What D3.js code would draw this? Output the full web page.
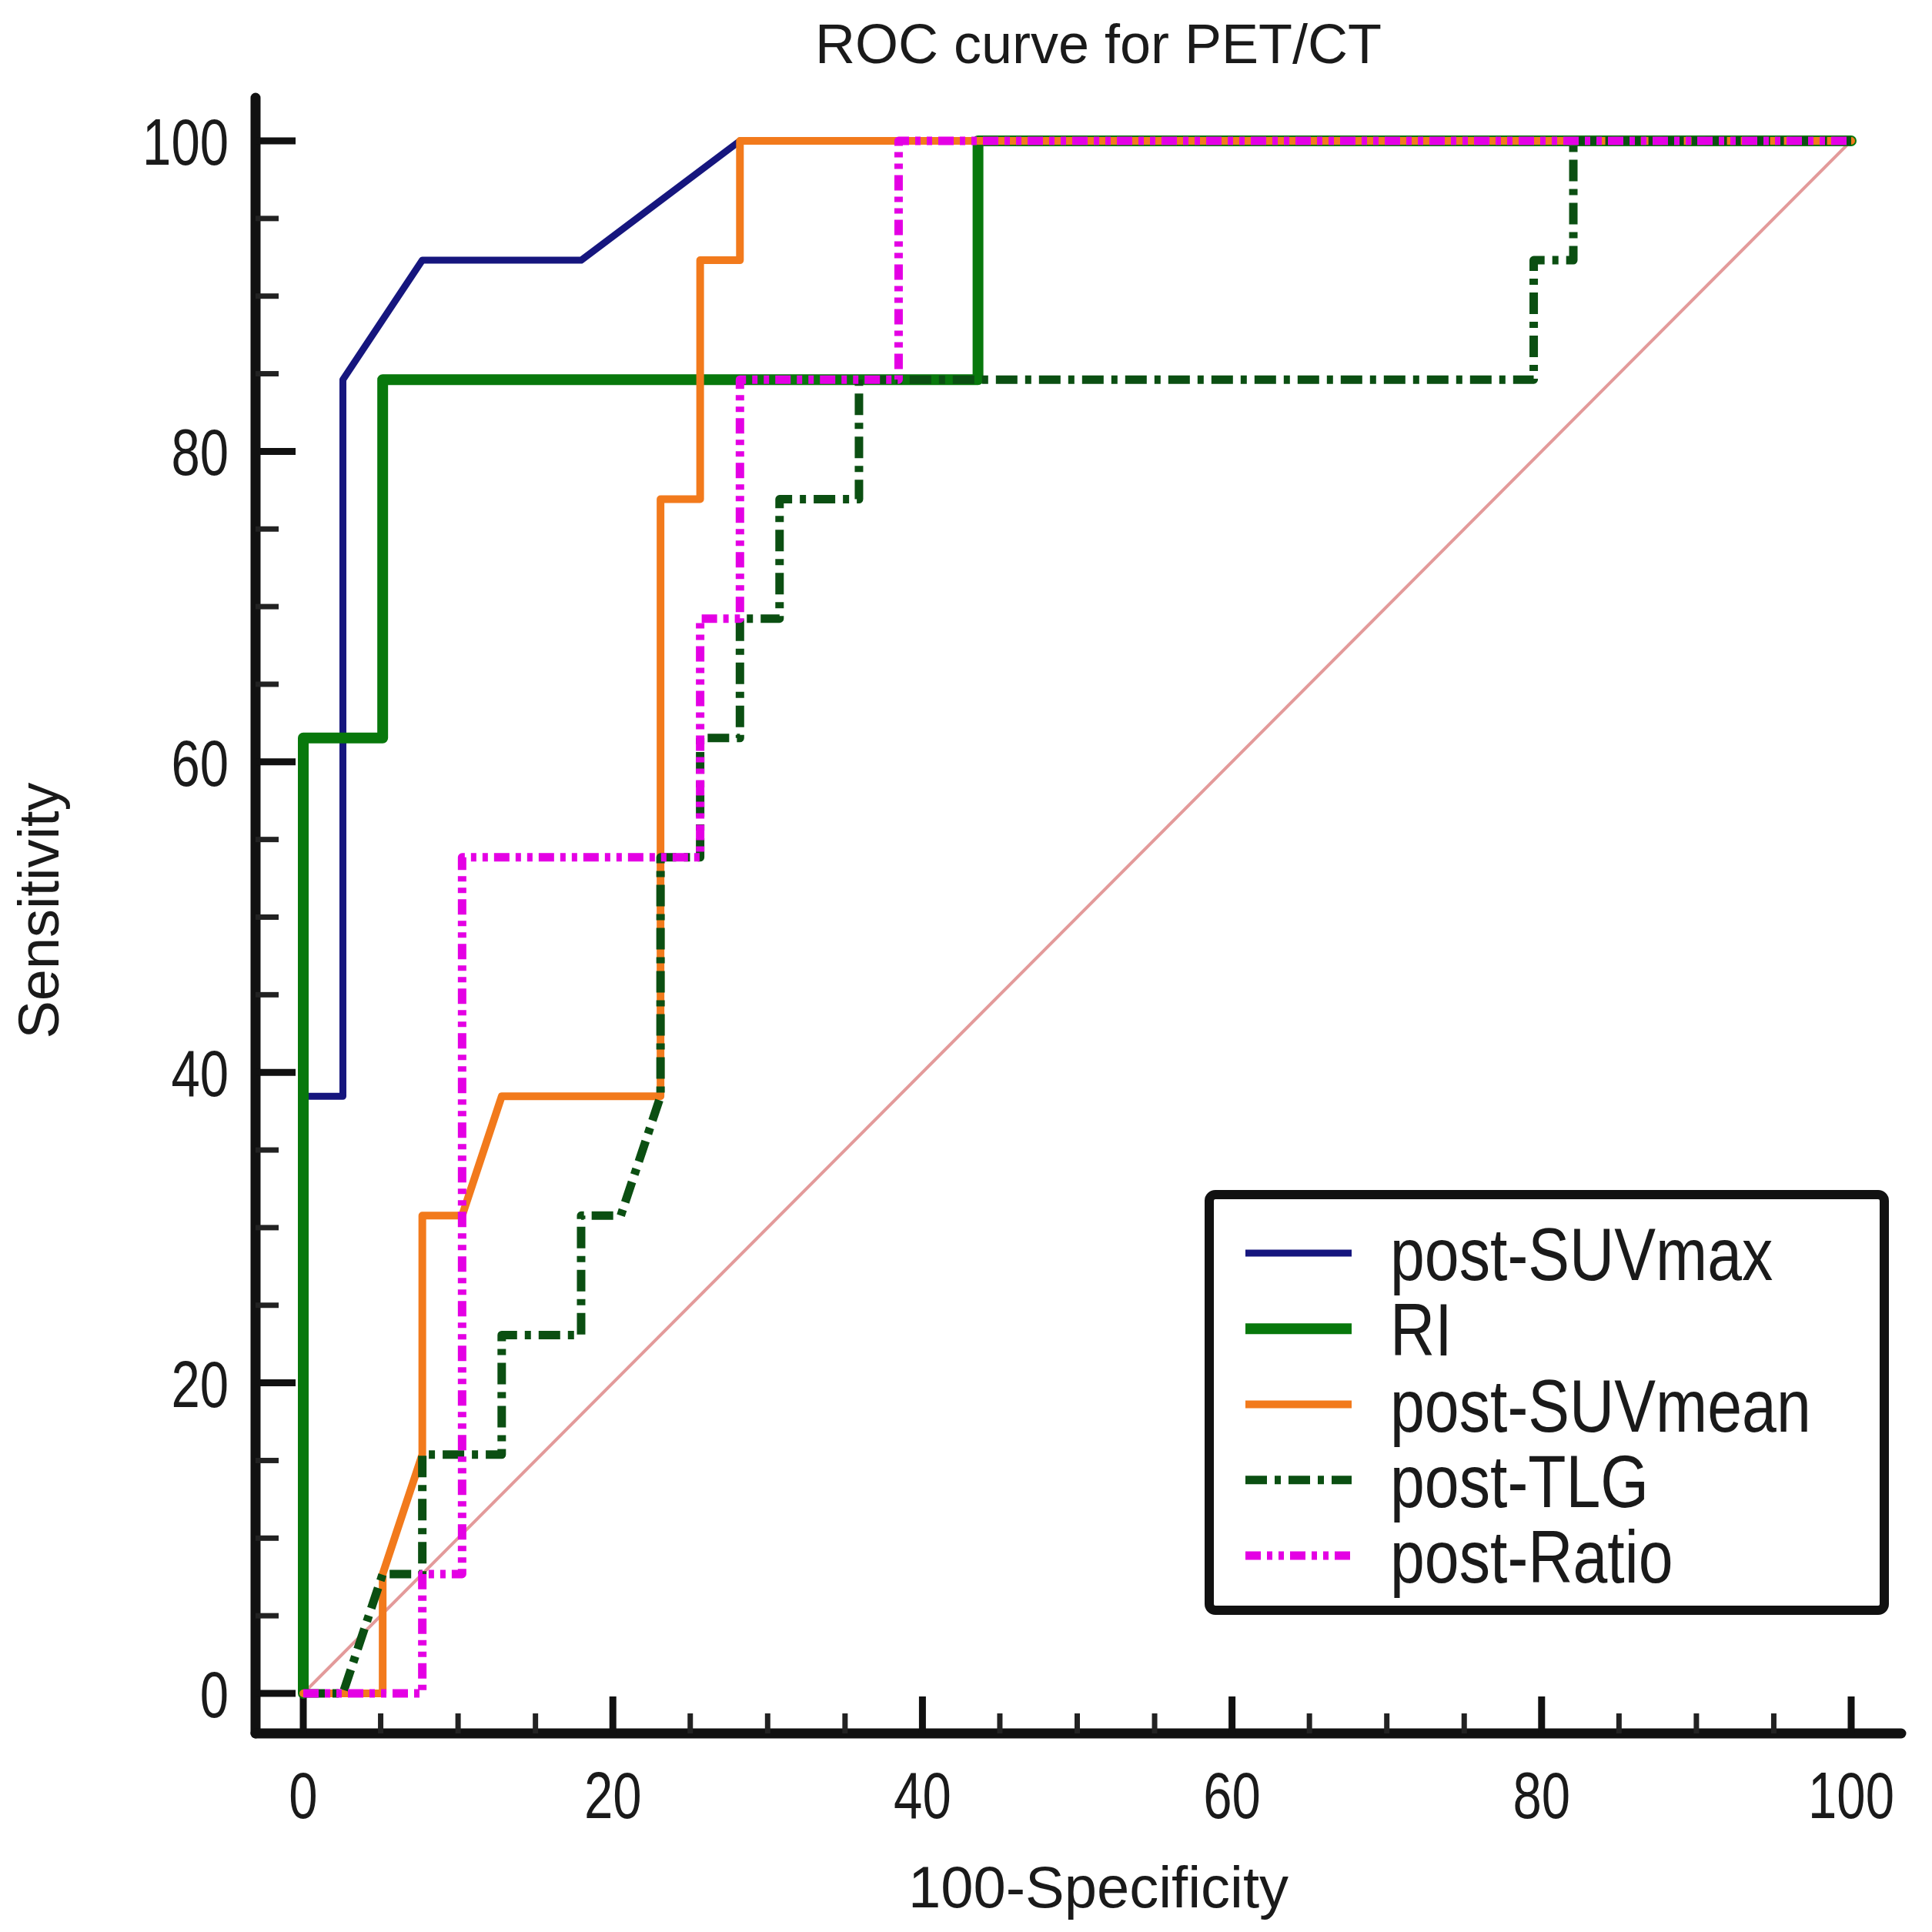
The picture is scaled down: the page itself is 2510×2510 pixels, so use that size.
<!DOCTYPE html>
<html>
<head>
<meta charset="utf-8">
<script src="https://cdn.jsdelivr.net/npm/d3@7"></script>
<style>
  html, body { margin: 0; padding: 0; background: #ffffff; }
  svg { display: block; }
  text { font-family: "Liberation Sans", Arial, Helvetica, sans-serif; fill: #1a1a1a; }
</style>
</head>
<body>
<svg id="chart" width="2510" height="2510"></svg>
<script>
// ---- data (100-Specificity on x, Sensitivity on y) ----
const seriesNames = ["post-SUVmax", "RI", "post-SUVmean", "post-TLG", "post-Ratio"];

const suvmaxX = [0, 0, 2.56, 2.56, 7.69, 17.95, 28.21, 100];
const suvmaxY = [0, 38.46, 38.46, 84.62, 92.31, 92.31, 100, 100];

const riX = [0, 0, 5.13, 5.13, 43.59, 43.59, 100];
const riY = [0, 61.54, 61.54, 84.62, 84.62, 100, 100];

const suvmeanX = [0, 5.13, 5.13, 7.69, 7.69, 10.26, 12.82, 23.08, 23.08, 25.64, 25.64, 28.21, 28.21, 100];
const suvmeanY = [0, 0, 7.69, 15.38, 30.77, 30.77, 38.46, 38.46, 76.92, 76.92, 92.31, 92.31, 100, 100];

const tlgX = [0, 2.56, 5.13, 7.69, 7.69, 12.82, 12.82, 17.95, 17.95, 20.51, 23.08, 23.08, 25.64, 25.64, 28.21, 28.21, 30.77, 30.77, 35.90, 35.90, 79.49, 79.49, 82.05, 82.05, 100];
const tlgY = [0, 0, 7.69, 7.69, 15.38, 15.38, 23.08, 23.08, 30.77, 30.77, 38.46, 53.85, 53.85, 61.54, 61.54, 69.23, 69.23, 76.92, 76.92, 84.62, 84.62, 92.31, 92.31, 100, 100];

const ratioX = [0, 7.69, 7.69, 10.26, 10.26, 25.64, 25.64, 28.21, 28.21, 38.46, 38.46, 100];
const ratioY = [0, 0, 7.69, 7.69, 53.85, 53.85, 69.23, 69.23, 84.62, 84.62, 100, 100];

const refX = [0, 100];
const refY = [0, 100];

const majorTicks = [0, 20, 40, 60, 80, 100];
const minorTicks = [5, 10, 15, 25, 30, 35, 45, 50, 55, 65, 70, 75, 85, 90, 95];

const titleText = "ROC curve for PET/CT";
const xTitle = "100-Specificity";
const yTitle = "Sensitivity";

// ---- styles ----
const styles = [
  { color: "#16167e", width: 9,  dash: null },
  { color: "#08780c", width: 14, dash: null },
  { color: "#f27a1c", width: 10, dash: null },
  { color: "#0b4f12", width: 11, dash: "28,10,8,10" },
  { color: "#e400e4", width: 11, dash: "20,8,7,8,7,8" }
];

const svg = d3.select("#chart");
svg.append("rect").attr("width", 2510).attr("height", 2510).attr("fill", "#fff");

const x = d3.scaleLinear().domain([0, 100]).range([394, 2405]);
const y = d3.scaleLinear().domain([0, 100]).range([2200, 183]);

const axisX = 332;   // y-axis line position
const axisY = 2252;  // x-axis line position

// ---- axes ----
const gA = svg.append("g");
gA.append("line").attr("x1", axisX).attr("x2", axisX).attr("y1", 127).attr("y2", axisY)
  .attr("stroke", "#111").attr("stroke-width", 13).attr("stroke-linecap", "round");
gA.append("line").attr("x1", axisX).attr("x2", 2470).attr("y1", axisY).attr("y2", axisY)
  .attr("stroke", "#111").attr("stroke-width", 13).attr("stroke-linecap", "round");

// y ticks (pointing right)
gA.selectAll(".ytmaj").data(majorTicks).join("line")
  .attr("x1", axisX).attr("x2", axisX + 52).attr("y1", d => y(d)).attr("y2", d => y(d))
  .attr("stroke", "#111").attr("stroke-width", 9);
gA.selectAll(".ytmin").data(minorTicks).join("line")
  .attr("x1", axisX).attr("x2", axisX + 30).attr("y1", d => y(d)).attr("y2", d => y(d))
  .attr("stroke", "#222").attr("stroke-width", 7);
// x ticks (pointing up)
gA.selectAll(".xtmaj").data(majorTicks).join("line")
  .attr("x1", d => x(d)).attr("x2", d => x(d)).attr("y1", axisY).attr("y2", axisY - 48)
  .attr("stroke", "#111").attr("stroke-width", 9);
gA.selectAll(".xtmin").data(minorTicks).join("line")
  .attr("x1", d => x(d)).attr("x2", d => x(d)).attr("y1", axisY).attr("y2", axisY - 26)
  .attr("stroke", "#222").attr("stroke-width", 7);

// tick labels (condensed digits)
const fmt = d3.format("d");
gA.selectAll(".ylab").data(majorTicks).join("g")
  .attr("transform", d => `translate(297,${y(d) + 31}) scale(0.78,1)`)
  .append("text").attr("text-anchor", "end").attr("font-size", 86).text(d => fmt(d));
gA.selectAll(".xlab").data(majorTicks).join("g")
  .attr("transform", d => `translate(${x(d)},2362) scale(0.78,1)`)
  .append("text").attr("text-anchor", "middle").attr("font-size", 86).text(d => fmt(d));

// titles
svg.append("text").attr("x", 1427).attr("y", 82).attr("text-anchor", "middle")
  .attr("font-size", 72).attr("fill", "#2a2a2a").text(titleText);
svg.append("text").attr("x", 1427).attr("y", 2478).attr("text-anchor", "middle")
  .attr("font-size", 76).attr("fill", "#2a2a2a").text(xTitle);
svg.append("text").attr("transform", "translate(76,1183) rotate(-90)").attr("text-anchor", "middle")
  .attr("font-size", 74).attr("fill", "#2a2a2a").text(yTitle);

// ---- curves ----
const line = d3.line().x(d => x(d[0])).y(d => y(d[1]));
const zip = (a, b) => a.map((v, i) => [v, b[i]]);

const gC = svg.append("g").attr("fill", "none");
gC.append("path").attr("d", line(zip(refX, refY)))
  .attr("stroke", "#e39a9a").attr("stroke-width", 4);

const seriesData = [
  zip(suvmaxX, suvmaxY),
  zip(riX, riY),
  zip(suvmeanX, suvmeanY),
  zip(tlgX, tlgY),
  zip(ratioX, ratioY)
];

seriesData.forEach((pts, i) => {
  const s = styles[i];
  const p = gC.append("path").attr("d", line(pts))
    .attr("stroke", s.color).attr("stroke-width", s.width)
    .attr("stroke-linejoin", "round").attr("stroke-linecap", s.dash ? "butt" : "round");
  if (s.dash) p.attr("stroke-dasharray", s.dash);
});

// ---- legend ----
const gL = svg.append("g");
gL.append("rect").attr("x", 1571).attr("y", 1552).attr("width", 877).attr("height", 540)
  .attr("rx", 8).attr("fill", "#fff").attr("stroke", "#111").attr("stroke-width", 12);
const rowY = d3.scaleLinear().domain([0, 4]).range([1628, 2021]);
seriesNames.forEach((name, i) => {
  const s = styles[i];
  const ly = rowY(i);
  const l = gL.append("line").attr("x1", 1618).attr("x2", 1756).attr("y1", ly).attr("y2", ly)
    .attr("stroke", s.color).attr("stroke-width", s.width);
  if (s.dash) l.attr("stroke-dasharray", s.dash);
  gL.append("g").attr("transform", `translate(1806,${ly + 35}) scale(0.84,1)`)
    .append("text").attr("font-size", 96).attr("fill", "#2a2a2a").text(name);
});
</script>
</body>
</html>
